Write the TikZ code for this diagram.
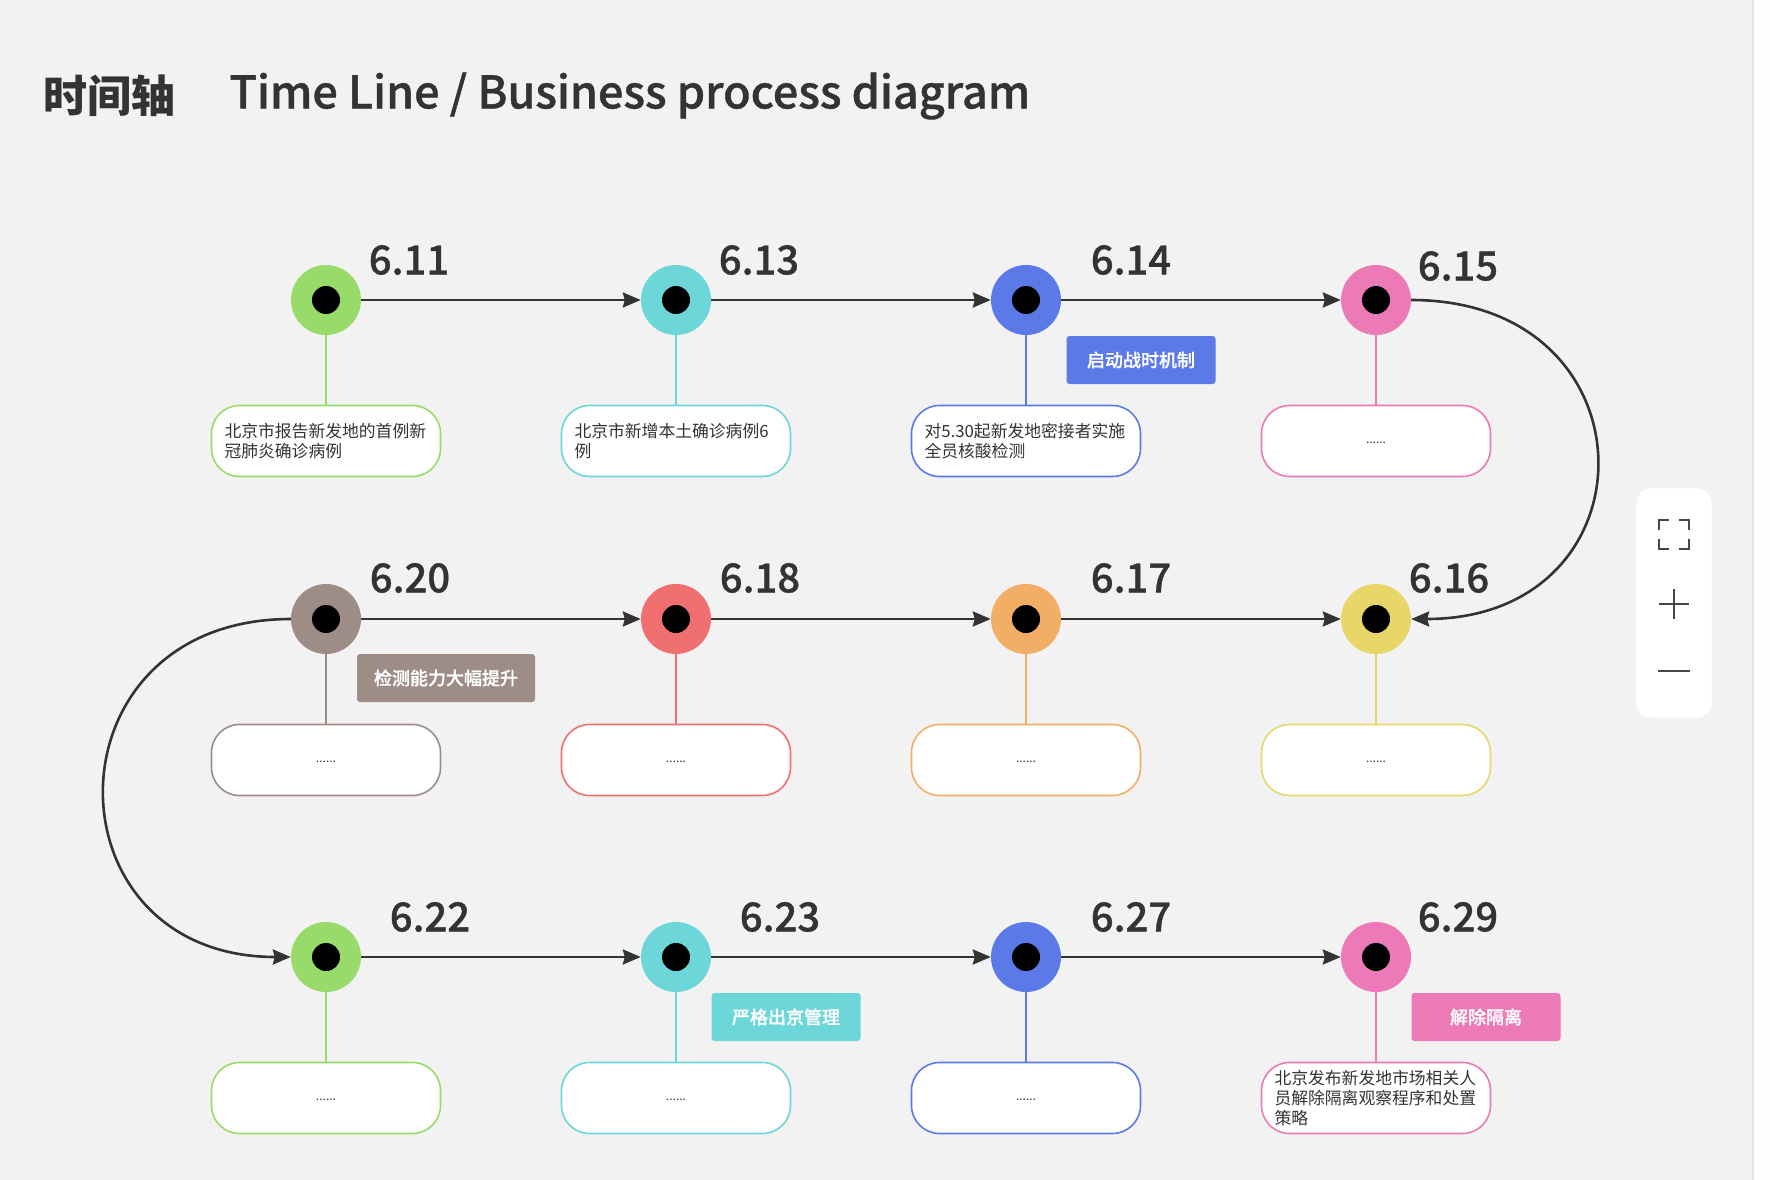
\documentclass[tikz,border=0pt]{standalone}
\usepackage{fontspec}
\setmainfont{Noto Sans CJK SC}
\newfontfamily\semibf[FakeBold=0.9]{Noto Sans CJK SC Medium}
\usetikzlibrary{arrows.meta}
\definecolor{bg}{HTML}{F2F2F2}
\definecolor{ink}{HTML}{333333}
\definecolor{cgreen}{HTML}{98DB6A}
\definecolor{ccyan}{HTML}{6DD6D8}
\definecolor{cblue}{HTML}{5B7AE8}
\definecolor{cpink}{HTML}{EC7AB6}
\definecolor{cbrown}{HTML}{9E8C87}
\definecolor{cred}{HTML}{F07070}
\definecolor{corange}{HTML}{F1AE64}
\definecolor{cyellow}{HTML}{E8D768}
\newcommand\evtblank{\fontsize{12}{14}\selectfont\raisebox{-5pt}{......}}

\begin{document}
\begin{tikzpicture}[x=1pt, y=-1pt,
  bead/.style={circle, fill=#1, minimum size=70pt, inner sep=0pt},
  hole/.style={circle, fill=black, minimum size=28pt, inner sep=0pt},
  note/.style={draw=#1, line width=1.6pt, fill=white, rounded corners=28pt, minimum width=229pt,
    minimum height=71pt, text width=203pt, inner xsep=13pt, inner ysep=2pt,
    font=\fontsize{16.8}{20}\selectfont, text=ink},
  tag/.style={fill=#1, rounded corners=3pt, minimum width=149pt, minimum height=48pt,
    text=white, font=\fontsize{18}{22}\selectfont\semibf},
  date/.style={font=\fontsize{40}{44}\selectfont\semibf, text=ink},
  stem/.style={draw=#1, line width=1.6pt},
  flow/.style={draw=ink, line width=2.6pt, -{Stealth[length=18pt,width=15pt,inset=2pt]}}
]
\useasboundingbox (0,0) rectangle (1770,1180);
\fill[bg] (0,0) rectangle (1770,1180);
\fill[black!3!bg!80!blue!3] (1753,0) rectangle (1770,1180);
\draw[black!10, line width=2pt] (1753,0) -- (1753,1180);

% title
\node[anchor=west, text=ink, font=\fontsize{44}{48}\selectfont\bfseries] (zh) at (40,96) {时间轴};
\node[anchor=west, text=ink, font=\fontsize{45}{48}\selectfont\semibf] (en) at (226,96) {Time Line / Business process diagram};

% events
\foreach \nm/\x/\y/\c/\d/\dx/\dy in {
  a1/326/300/cgreen/6.11/83/-40, a2/676/300/ccyan/6.13/83/-40,
  a3/1026/300/cblue/6.14/105/-40, a4/1376/300/cpink/6.15/82/-34,
  b1/326/619/cbrown/6.20/84/-41, b2/676/619/cred/6.18/84/-41,
  b3/1026/619/corange/6.17/105/-41, b4/1376/619/cyellow/6.16/73/-41,
  c1/326/957/cgreen/6.22/104/-40, c2/676/957/ccyan/6.23/104/-40,
  c3/1026/957/cblue/6.27/105/-40, c4/1376/957/cpink/6.29/82/-40} {
  \node[bead=\c] (\nm) at (\x,\y) {};
  \node[hole] at (\nm) {};
  \node[date] (\nm-d) at (\x+\dx,\y+\dy) {\d};
}

\node[note=cgreen, align=left] (a1-n) at (326,441) {北京市报告新发地的首例新\\冠肺炎确诊病例};
\node[note=ccyan, align=left] (a2-n) at (676,441) {北京市新增本土确诊病例6\\例};
\node[note=cblue, align=left] (a3-n) at (1026,441) {对5.30起新发地密接者实施\\全员核酸检测};
\node[note=cpink, align=center] (a4-n) at (1376,441) {\evtblank};
\node[note=cbrown, align=center] (b1-n) at (326,760) {\evtblank};
\node[note=cred, align=center] (b2-n) at (676,760) {\evtblank};
\node[note=corange, align=center] (b3-n) at (1026,760) {\evtblank};
\node[note=cyellow, align=center] (b4-n) at (1376,760) {\evtblank};
\node[note=cgreen, align=center] (c1-n) at (326,1098) {\evtblank};
\node[note=ccyan, align=center] (c2-n) at (676,1098) {\evtblank};
\node[note=cblue, align=center] (c3-n) at (1026,1098) {\evtblank};
\node[note=cpink, align=left] (c4-n) at (1376,1098) {北京发布新发地市场相关人\\员解除隔离观察程序和处置\\策略};

\foreach \nm/\c in {a1/cgreen, a2/ccyan, a3/cblue, a4/cpink, b1/cbrown, b2/cred,
  b3/corange, b4/cyellow, c1/cgreen, c2/ccyan, c3/cblue, c4/cpink}
  \draw[stem=\c] (\nm.south) -- (\nm-n.north);

\node[tag=cblue] (t1) at (1141,360) {启动战时机制};
\node[tag=cbrown, minimum width=178pt] (t2) at (446,678) {检测能力大幅提升};
\node[tag=ccyan] (t3) at (786,1017) {严格出京管理};
\node[tag=cpink] (t4) at (1486,1017) {解除隔离};

% flow
\foreach \p/\q in {a1/a2, a2/a3, a3/a4, b1/b2, b2/b3, b3/b4, c1/c2, c2/c3, c3/c4}
  \draw[flow] (\p.east) -- (\q.west);
\draw[flow] (a4.east) .. controls +(247,0) and +(247,0) .. (b4.east);
\draw[flow] (b1.west) .. controls +(-248,0) and +(-248,0) .. (c1.west);

% zoom panel
\draw[black!8, fill=white, rounded corners=14pt] (1636,488) rectangle (1712,718);
\begin{scope}[draw=black!72, line width=2pt]
\draw (1659,530) -- (1659,520) -- (1669,520);
\draw (1679,520) -- (1689,520) -- (1689,530);
\draw (1659,539) -- (1659,549) -- (1669,549);
\draw (1679,549) -- (1689,549) -- (1689,539);
\draw (1659,604) -- (1689,604);
\draw (1674,589) -- (1674,619);
\draw (1658,671) -- (1690,671);
\end{scope}
\end{tikzpicture}
\end{document}
